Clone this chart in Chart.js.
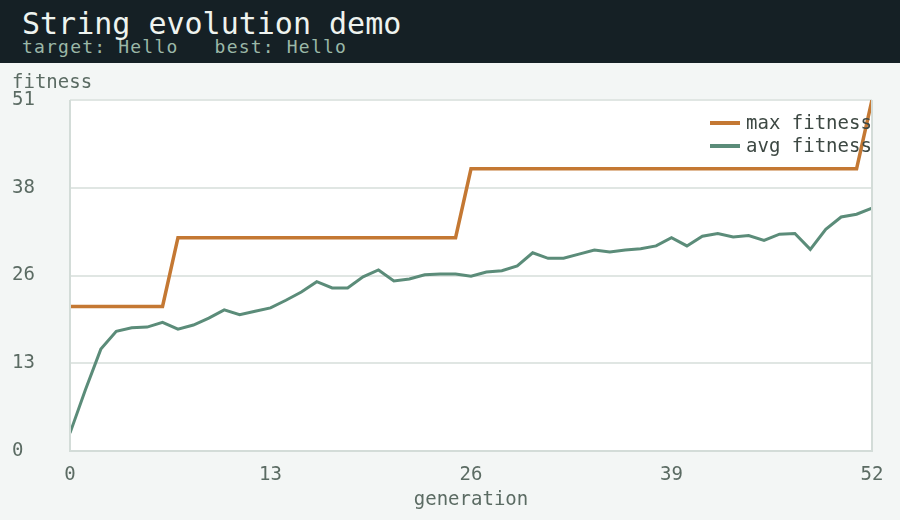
<!DOCTYPE html>
<html>
<head>
<meta charset="utf-8">
<script src="https://cdn.jsdelivr.net/npm/chart.js@4.4.1/dist/chart.umd.min.js"></script>
<style>
  html, body { margin: 0; padding: 0; background: #f3f6f5; }
  #wrap { width: 900px; height: 520px; position: relative; overflow: hidden; }
  #header { position: absolute; left: 0; top: 0; width: 900px; height: 63px; background: #152025; }
  #title { position: absolute; left: 22px; top: 9px; font: 30px/30px "DejaVu Sans Mono", monospace; color: #eef3ef; white-space: pre; }
  #subtitle { position: absolute; left: 22px; top: 38px; font: 18px/18px "DejaVu Sans Mono", monospace; letter-spacing: 1.2px; color: #9bb8a8; white-space: pre; }
  #chart { position: absolute; left: 0; top: 63px; }
</style>
</head>
<body>
<div id="wrap">
  <div id="header">
    <div id="title">String evolution demo</div>
    <div id="subtitle">target: Hello   best: Hello</div>
  </div>
  <canvas id="chart" width="900" height="457"></canvas>
</div>
<script>
// generations on the x axis
const generations = [0, 1, 2, 3, 4, 5, 6, 7, 8, 9, 10, 11, 12, 13, 14, 15, 16, 17, 18, 19,
    20, 21, 22, 23, 24, 25, 26, 27, 28, 29, 30, 31, 32, 33, 34, 35, 36, 37, 38, 39,
    40, 41, 42, 43, 44, 45, 46, 47, 48, 49, 50, 51, 52];

const maxFitness = [21, 21, 21, 21, 21, 21, 21, 31, 31, 31, 31, 31, 31, 31, 31, 31, 31, 31, 31, 31,
    31, 31, 31, 31, 31, 31, 41, 41, 41, 41, 41, 41, 41, 41, 41, 41, 41, 41, 41, 41,
    41, 41, 41, 41, 41, 41, 41, 41, 41, 41, 41, 41, 51];

const avgFitness = [2.6, 8.9, 14.8, 17.4, 17.9, 18.0, 18.7, 17.7, 18.3, 19.3, 20.5, 19.8, 20.3, 20.8,
    21.9, 23.1, 24.6, 23.7, 23.7, 25.3, 26.3, 24.7, 25.0, 25.6, 25.7, 25.7, 25.4, 26.0, 26.2,
    26.9, 28.8, 28.0, 28.0, 28.6, 29.2, 28.9, 29.2, 29.4, 29.8, 31.0, 29.8, 31.2, 31.6, 31.1,
    31.3, 30.6, 31.5, 31.6, 29.3, 32.2, 34.0, 34.4, 35.3];

const yTicks = [0, 12.75, 25.5, 38.25, 51];
const xTicks = [0, 13, 26, 39, 52];

const FONT = "'DejaVu Sans Mono', monospace";
const TEXT = '#5b6b63';

const toPoints = (arr) => arr.map((v, i) => ({ x: generations[i], y: v }));

// white plot area + frame, y title and the legend in the corner
const plotDecor = {
    id: 'plotDecor',
    beforeDraw(chart) {
        const { ctx, chartArea: a } = chart;
        ctx.save();
        ctx.fillStyle = '#ffffff';
        ctx.fillRect(a.left, a.top, a.right - a.left, a.bottom - a.top);
        ctx.restore();
    },
    afterDatasetsDraw(chart) {
        const { ctx, chartArea: a } = chart;
        ctx.save();
        // frame: left, bottom, right
        ctx.strokeStyle = '#d3dcd8';
        ctx.lineWidth = 2;
        ctx.beginPath();
        ctx.moveTo(a.left, a.top);
        ctx.lineTo(a.left, a.bottom);
        ctx.lineTo(a.right, a.bottom);
        ctx.lineTo(a.right, a.top);
        ctx.stroke();

        // y axis title
        ctx.font = '19px ' + FONT;
        ctx.fillStyle = TEXT;
        ctx.textAlign = 'left';
        ctx.textBaseline = 'middle';
        ctx.fillText('fitness', 12, 20);

        // legend
        chart.data.datasets.forEach((ds, i) => {
            const y = 60 + i * 23;
            ctx.strokeStyle = ds.borderColor;
            ctx.lineWidth = 4;
            ctx.beginPath();
            ctx.moveTo(710, y);
            ctx.lineTo(740, y);
            ctx.stroke();
            ctx.fillStyle = '#3d4843';
            ctx.fillText(ds.label, 746, y + 1);
        });
        ctx.restore();
    }
};

new Chart(document.getElementById('chart'), {
    type: 'line',
    data: {
        datasets: [
            {
                label: 'max fitness',
                data: toPoints(maxFitness),
                borderColor: '#c47833',
                borderWidth: 3.5,
                pointRadius: 0,
                tension: 0
            },
            {
                label: 'avg fitness',
                data: toPoints(avgFitness),
                borderColor: '#5b8c79',
                borderWidth: 3,
                pointRadius: 0,
                tension: 0
            }
        ]
    },
    options: {
        responsive: false,
        animation: false,
        devicePixelRatio: 1,
        layout: { padding: { left: 12, top: 37, right: 28, bottom: 0 } },
        plugins: {
            legend: { display: false },
            tooltip: { enabled: false }
        },
        scales: {
            x: {
                type: 'linear',
                min: 0,
                max: 52,
                afterBuildTicks: (s) => { s.ticks = xTicks.map(v => ({ value: v })); },
                afterFit: (s) => { s.height = 69; },
                grid: { display: false },
                border: { display: false },
                ticks: {
                    color: TEXT,
                    font: { family: FONT, size: 19 },
                    padding: 5,
                    maxRotation: 0
                },
                title: {
                    display: true,
                    text: 'generation',
                    color: TEXT,
                    font: { family: FONT, size: 19 },
                    padding: { top: 0, bottom: 9 }
                }
            },
            y: {
                min: 0,
                max: 51,
                afterBuildTicks: (s) => { s.ticks = yTicks.map(v => ({ value: v })); },
                afterFit: (s) => { s.width = 58; },
                grid: {
                    color: '#e0e6e3',
                    lineWidth: 2,
                    drawTicks: false
                },
                border: { display: false },
                ticks: {
                    color: TEXT,
                    font: { family: FONT, size: 19 },
                    crossAlign: 'far',
                    padding: 0,
                    callback: (v) => Math.round(v)
                }
            }
        }
    },
    plugins: [plotDecor]
});
</script>
</body>
</html>
